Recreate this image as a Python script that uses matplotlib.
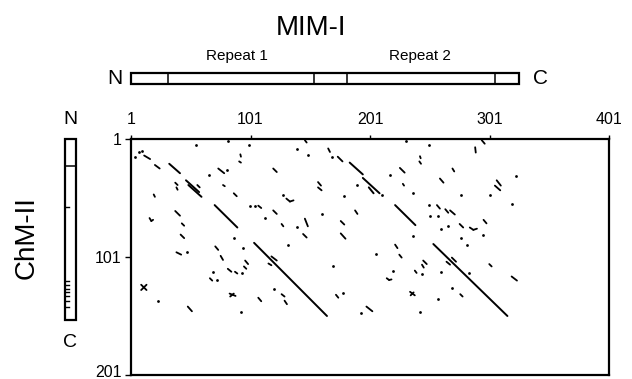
"""
Dot-plot self-comparison: MIM-I (x) against ChM-II (y).
"""
import matplotlib
matplotlib.use("Agg")
import matplotlib.pyplot as plt
import matplotlib.transforms as mtransforms
from matplotlib.patches import Rectangle

plt.rcParams["font.family"] = ["Liberation Sans", "DejaVu Sans"]

# ---------------------------------------------------------------------------
# Data (residue numbers)
# ---------------------------------------------------------------------------
MIM_LENGTH = 326
MIM_DIVIDERS = [32, 154, 182, 306]
REPEAT_NAMES = ["Repeat 1", "Repeat 2"]
REPEAT_CENTRES = [90, 243]

CHM_LENGTH = 154
CHM_DIVIDERS = [24]
CHM_MARKS = [59, 121, 125, 128, 131, 134, 138, 143]

X_TICKS = [1, 101, 201, 301, 401]
Y_TICKS = [1, 101, 201]

# long diagonals (x0, y0, x1, y1)
long_lines = [
    (71, 57, 90, 76), (104, 89, 165, 151),
    (222, 57, 239, 74), (254, 90, 316, 151),
    (33, 22, 42, 30), (47, 36, 58, 46), (49, 40, 60, 50),
    (184, 21, 195, 31), (195, 34, 209, 47), (200, 42, 204, 47),
]

# short matches (x0, y0, x1, y1)
short_segs = [
    (12, 15, 17, 18), (21, 23, 25, 26), (92.5, 14, 93, 16), (91.5, 20, 93, 21),
    (74, 26, 79, 30), (38, 38, 40, 40), (39, 42, 40, 44), (56.5, 40, 58.5, 42),
    (78, 40, 79.5, 41), (87, 47, 89.5, 49.5), (20, 48, 21, 50), (38, 62, 42, 66),
    (146.5, 2, 148, 4), (166, 9, 167.5, 12), (174, 16, 178, 20), (120, 26, 123, 29),
    (157.5, 37.5, 160, 40.5), (157.5, 42, 160.5, 44.5), (131, 51.5, 134, 54),
    (134, 54, 137, 53), (107.5, 57.5, 110, 59.5), (120, 61.5, 123, 64.5),
    (188.5, 61.5, 190.5, 64.5), (294.5, 2, 297, 5), (289, 8, 289.5, 12.5),
    (242.8, 15.6, 243.4, 17.3), (242.3, 20, 243.7, 22), (226, 25.5, 230, 29.5),
    (270, 26, 271.5, 28.5), (259.5, 34.5, 262.5, 38), (228.5, 39, 229.5, 40.5),
    (307, 36, 310.5, 40.5), (305.5, 40.5, 310, 44.5), (257, 57, 259.5, 60),
    (264, 60.5, 266.5, 63.5), (268, 61.5, 272, 65), (16.5, 68, 18, 70.5),
    (18, 70.5, 19.5, 69.5), (43.5, 72.5, 45.5, 74.5), (42.5, 82, 45.5, 85),
    (39, 97, 43, 99), (71.5, 92, 74, 95), (76, 100, 78, 103.5), (67, 119, 69, 121),
    (82, 111, 85, 113.5), (88, 113.5, 90, 115), (95.5, 109, 97.5, 111),
    (96.5, 104, 99, 107), (9.5, 124.5, 14, 129), (9.5, 129, 14, 124.5),
    (83.5, 132, 88.5, 134), (84, 134.5, 87, 132), (48.5, 143, 52, 147),
    (127, 73, 128.5, 75), (146.5, 68.5, 149, 75), (145, 81.5, 148, 84.5),
    (176.5, 70.5, 179.5, 73.5), (176.5, 81, 180.5, 85.5), (118.5, 100.5, 123, 104),
    (116, 106.5, 118.5, 108), (127, 132.5, 129.5, 134.5), (129.5, 138, 131.5, 141),
    (107.5, 135.5, 110, 138.5), (172.5, 133, 174.5, 135.5), (198, 143, 203, 147),
    (276, 73, 279, 76), (284.5, 76, 287.5, 78), (287.5, 78, 290.5, 77),
    (296, 69.5, 298.5, 72.5), (222, 90.5, 224, 93.5), (225.5, 99, 227.5, 101.5),
    (245.5, 104, 248.5, 107), (244.5, 107.5, 246, 110), (238.5, 112.5, 240, 114.5),
    (215, 119, 217, 120.5), (217, 120.5, 219, 120), (265, 105, 268, 107.5),
    (269.5, 101.5, 273, 105), (300.8, 107, 302.8, 109), (319.5, 117.5, 324, 121),
    (234.5, 130.5, 238.5, 133.5), (235, 133.5, 237.5, 131), (276.5, 132.5, 278.5, 134.5),
]

# isolated dots (x, y)
dots = [
    (4.5, 16), (8, 12), (10, 11), (55.5, 6), (82, 3), (99.5, 6), (66.5, 31.5),
    (81.5, 27), (100.5, 57.5), (104.5, 58), (139.5, 9.5), (149.5, 14.5), (169, 16.5),
    (190, 40), (179.5, 49), (128.5, 48.5), (160.5, 64.5), (231.5, 3), (250, 6),
    (217.5, 31.5), (323, 32), (237, 46.5), (277.5, 48.5), (301.5, 48.5), (319.5, 56),
    (250, 57), (211, 48.5), (87.5, 84.5), (94.5, 93), (48, 96.5), (69.5, 113.5),
    (73, 120.5), (93.5, 114.5), (23.5, 138.5), (93, 148), (113, 68), (139.5, 76),
    (132.5, 90.5), (206, 98.5), (170, 109), (121, 128), (178, 131.5), (193.5, 148.5),
    (251, 66.5), (258, 66.5), (260.5, 77), (266.5, 74.5), (295.5, 82), (237, 83.5),
    (277.5, 84.5), (282, 90.5), (220.5, 112.5), (244.5, 115.5), (260.5, 113.5),
    (284, 114.5), (270, 127), (258, 136.5), (243, 148),
]

# ---------------------------------------------------------------------------
# Layout (632 x 379 px)
# ---------------------------------------------------------------------------
W, H = 632, 379
fig = plt.figure(figsize=(W / 100, H / 100), dpi=100)


def frac(left, top, right, bottom):
    return [left / W, 1 - bottom / H, (right - left) / W, (bottom - top) / H]


ax = fig.add_axes(frac(131, 139, 609, 375))

for x0, y0, x1, y1 in long_lines:
    ax.plot([x0, x1], [y0, y1], color="black", lw=1.4, solid_capstyle="round")
for x0, y0, x1, y1 in short_segs:
    ax.plot([x0, x1], [y0, y1], color="black", lw=1.3, solid_capstyle="round")
ax.plot([d[0] for d in dots], [d[1] for d in dots], "o", color="black",
        ms=2.0, mew=0)

ax.set_xlim(1, 401)
ax.set_ylim(201, 1)
ax.xaxis.tick_top()
ax.set_xticks(X_TICKS)
ax.set_yticks(Y_TICKS)
ax.set_xticklabels([str(t) for t in X_TICKS])
ax.set_yticklabels([str(t) for t in Y_TICKS])
ax.tick_params(axis="x", direction="out", length=3, width=1, pad=6, labelsize=11.5)
ax.tick_params(axis="y", direction="out", length=4, width=1, pad=3, labelsize=11.5)
for s in ax.spines.values():
    s.set_linewidth(1.6)

# the last y label sits on the picture's bottom edge: lift it a little
last = ax.get_yticklabels()[-1]
last.set_transform(last.get_transform() +
                   mtransforms.ScaledTranslation(0, 4 / 100, fig.dpi_scale_trans))

# MIM-I bar above the plot
bar = fig.add_axes(frac(131, 73, 609, 84))
bar.set_xlim(1, 401)
bar.set_ylim(0, 1)
bar.axis("off")
bar.add_patch(Rectangle((1, 0), MIM_LENGTH - 1, 1, fill=False, ec="black",
                        lw=1.6, clip_on=False))
for d in MIM_DIVIDERS:
    bar.plot([d, d], [0, 1], color="black", lw=1.1, clip_on=False)
for name, cx in zip(REPEAT_NAMES, REPEAT_CENTRES):
    bar.text(cx, 2.2, name, ha="center", va="baseline", fontsize=11)
bar.text(-6, 0.5, "N", ha="right", va="center", fontsize=15)
bar.text(MIM_LENGTH + 11, 0.5, "C", ha="left", va="center", fontsize=15)

fig.text(311.5 / W, 1 - 35 / H, "MIM-I", ha="center", va="baseline", fontsize=20)

# ChM-II bar at the left
vbar = fig.add_axes(frac(65, 139, 76, 375))
vbar.set_xlim(0, 1)
vbar.set_ylim(201, 1)
vbar.axis("off")
vbar.add_patch(Rectangle((0, 1), 1, CHM_LENGTH - 1, fill=False, ec="black",
                         lw=1.6, clip_on=False))
for d in CHM_DIVIDERS:
    vbar.plot([0, 1], [d, d], color="black", lw=1.1, clip_on=False)
for m in CHM_MARKS:
    vbar.plot([0.08, 0.35], [m, m], color="black", lw=1.0, clip_on=False)
vbar.text(0.5, -12, "N", ha="center", va="baseline", fontsize=14, clip_on=False)
vbar.text(0.5, CHM_LENGTH + 23, "C", ha="center", va="baseline", fontsize=14,
          clip_on=False)

fig.text(27 / W, 1 - 238 / H, "ChM-II", ha="center", va="center",
         rotation=90, fontsize=20)

fig.savefig("out.png", dpi=100)
